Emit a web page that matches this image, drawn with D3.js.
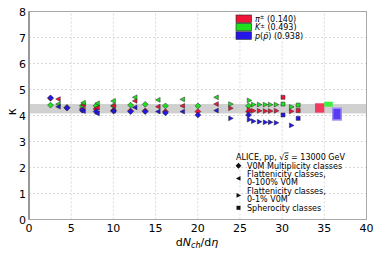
<!DOCTYPE html>
<html>
<head>
<meta charset="utf-8">
<script src="https://cdn.jsdelivr.net/npm/d3@7"></script>
<style>
  body { margin: 0; background: #fff; }
  svg { font-family: "DejaVu Sans", sans-serif; }
</style>
</head>
<body>
<div id="chart"></div>
<script>
// Data (kappa per species, per event class)
const species = ["pi", "K", "p"];
const speciesMass = ["0.140", "0.493", "0.938"];
const colors = { pi: "#ee1538", K: "#1fe01f", p: "#2418e8" };

// V0M multiplicity classes
const v0mX = [2.55, 4.50, 6.32, 7.95, 10.02, 12.04, 13.77, 16.17, 20.02, 26.02];
const v0mPi = [4.66, 4.31, 4.25, 4.25, 4.20, 4.18, 4.18, 4.15, 4.15, 4.15];
const v0mK = [4.40, 4.30, 4.37, 4.37, 4.37, 4.40, 4.43, 4.37, 4.37, 4.37];
const v0mP = [4.68, 4.29, 4.20, 4.15, 4.17, 4.15, 4.15, 4.10, 4.02, 4.02];

// Flattenicity classes, 0-100% V0M
const flatAllX = [3.47, 6.44, 8.1, 10.0, 12.56, 15.3, 18.2, 22.2];
const flatAllPi = [4.63, 4.40, 4.30, 4.37, 4.56, 4.34, 4.37, 4.44];
const flatAllK = [4.44, 4.49, 4.47, 4.56, 4.70, 4.60, 4.62, 4.70];
const flatAllP = [4.34, 4.17, 4.08, 4.18, 4.31, 4.15, 4.15, 4.19];

// Flattenicity classes, 0-1% V0M
const flatTopX = [23.9, 26.1, 26.6, 27.3, 28.0, 28.6, 29.3, 31.1];
const flatTopPi = [4.28, 4.22, 4.18, 4.18, 4.17, 4.17, 4.18, 4.16];
const flatTopK = [4.44, 4.58, 4.42, 4.42, 4.42, 4.42, 4.42, 4.33];
const flatTopP = [3.89, 3.84, 3.78, 3.76, 3.74, 3.74, 3.72, 3.62];

// Spherocity classes
const sphX = [30.1, 31.9];
const sphPi = [4.70, 4.19];
const sphK = [4.44, 4.40];
const sphP = [4.02, 3.89];

// Summary boxes (x range, kappa range)
const boxX0 = [33.9, 35.0, 36.0];
const boxX1 = [35.0, 36.0, 37.0];
const boxLo = [4.11, 4.34, 3.83];
const boxHi = [4.47, 4.53, 4.28];

const bandLo = 4.08, bandHi = 4.44;

const xTicks = [0, 5, 10, 15, 20, 25, 30, 35, 40];
const yTicks = [0, 1, 2, 3, 4, 5, 6, 7, 8];

const width = 381, height = 254;
const margin = { top: 11.5, right: 14.5, bottom: 34.5, left: 29 };

const svg = d3.select("#chart").append("svg")
    .attr("width", width)
    .attr("height", height);

const x = d3.scaleLinear().domain([0, 40]).range([margin.left, width - margin.right]);
const y = d3.scaleLinear().domain([0, 8]).range([height - margin.bottom, margin.top]);

// grid
svg.append("g").selectAll("line").data(xTicks.slice(1, -1)).join("line")
    .attr("x1", d => x(d)).attr("x2", d => x(d))
    .attr("y1", y(0)).attr("y2", y(8))
    .attr("stroke", "#d8d8d8").attr("stroke-dasharray", "2,2");
svg.append("g").selectAll("line").data(yTicks.slice(1, -1)).join("line")
    .attr("x1", x(0)).attr("x2", x(40))
    .attr("y1", d => y(d)).attr("y2", d => y(d))
    .attr("stroke", "#d8d8d8").attr("stroke-dasharray", "2,2");

// gray band
svg.append("rect")
    .attr("x", x(0)).attr("width", x(40) - x(0))
    .attr("y", y(bandHi)).attr("height", y(bandLo) - y(bandHi))
    .attr("fill", "#d0d0d0");

// frame
svg.append("rect")
    .attr("x", x(0)).attr("y", y(8))
    .attr("width", x(40) - x(0)).attr("height", y(0) - y(8))
    .attr("fill", "none").attr("stroke", "#a8a8a8").attr("stroke-width", 1);
svg.append("line")
    .attr("x1", x(0)).attr("x2", x(0)).attr("y1", y(0)).attr("y2", y(8))
    .attr("stroke", "#999").attr("stroke-width", 2);

// tick labels
svg.append("g").selectAll("text").data(xTicks).join("text")
    .attr("x", d => x(d)).attr("y", y(0) + 12)
    .attr("text-anchor", "middle").attr("font-size", 11)
    .text(d => d);
svg.append("g").selectAll("text").data(yTicks).join("text")
    .attr("x", x(0) - 3).attr("y", d => y(d) + 4)
    .attr("text-anchor", "end").attr("font-size", 11)
    .text(d => d);

// axis labels
const xl = svg.append("text")
    .attr("x", 197).attr("y", 246)
    .attr("text-anchor", "middle").attr("font-size", 11);
xl.append("tspan").text("d");
xl.append("tspan").attr("font-style", "italic").text("N");
xl.append("tspan").attr("font-style", "italic").attr("font-size", 8).attr("dy", 2).text("ch");
xl.append("tspan").attr("dy", -2).text("/d");
xl.append("tspan").attr("font-style", "italic").text("η");

svg.append("text")
    .attr("transform", `translate(16,${y(4.15)}) rotate(-90)`)
    .attr("text-anchor", "middle").attr("font-size", 12)
    .text("κ");

// summary boxes
const boxColors = ["#f03a5e", "#3cf03c", "#5a3cf2"];
svg.append("g").selectAll("rect").data(boxX0).join("rect")
    .attr("x", (d, i) => x(d))
    .attr("width", (d, i) => x(boxX1[i]) - x(d))
    .attr("y", (d, i) => y(boxHi[i]))
    .attr("height", (d, i) => y(boxLo[i]) - y(boxHi[i]))
    .attr("fill", (d, i) => boxColors[i])
    .attr("stroke", (d, i) => i === 2 ? "#9a8cf0" : "none")
    .attr("stroke-width", 1.5);

// markers
const diamond = d3.symbol().type(d3.symbolDiamond2).size(22)();
const square = d3.symbol().type(d3.symbolSquare).size(16)();
const triLeft = "M-2.6,0L2,-2.4L2,2.4Z";
const triRight = "M2.6,0L-2,-2.4L-2,2.4Z";

const sets = [
    { xs: v0mX, vals: { pi: v0mPi, K: v0mK, p: v0mP }, path: diamond },
    { xs: flatAllX, vals: { pi: flatAllPi, K: flatAllK, p: flatAllP }, path: triLeft },
    { xs: flatTopX, vals: { pi: flatTopPi, K: flatTopK, p: flatTopP }, path: triRight },
    { xs: sphX, vals: { pi: sphPi, K: sphK, p: sphP }, path: square }
];

sets.forEach(s => {
    species.forEach(sp => {
        const pts = s.xs.map((xv, i) => [xv, s.vals[sp][i]]);
        svg.append("g").selectAll("path").data(pts).join("path")
            .attr("d", s.path)
            .attr("transform", d => `translate(${x(d[0])},${y(d[1])})`)
            .attr("fill", colors[sp])
            .attr("stroke", "#222").attr("stroke-width", 0.5);
    });
});

// species legend
const leg = svg.append("g").attr("transform", "translate(236,15)");
species.forEach((sp, i) => {
    leg.append("rect")
        .attr("x", 0).attr("y", i * 8.4)
        .attr("width", 15.5).attr("height", 7.5)
        .attr("fill", colors[sp]).attr("stroke", "#222").attr("stroke-width", 0.6);
    const t = leg.append("text")
        .attr("x", 19).attr("y", i * 8.4 + 6.8)
        .attr("font-size", 8);
    if (sp === "pi") {
        t.append("tspan").attr("font-style", "italic").text("π");
        t.append("tspan").attr("font-size", 5.5).attr("dy", -2.5).text("±");
        t.append("tspan").attr("dy", 2.5).text(" (" + speciesMass[i] + ")");
    } else if (sp === "K") {
        t.append("tspan").attr("font-style", "italic").text("K");
        t.append("tspan").attr("font-size", 5.5).attr("dy", -2.5).text("±");
        t.append("tspan").attr("dy", 2.5).text(" (" + speciesMass[i] + ")");
    } else {
        t.append("tspan").attr("font-style", "italic").text("p");
        t.append("tspan").text("(");
        t.append("tspan").attr("font-style", "italic").text("p̄");
        t.append("tspan").text(") (" + speciesMass[i] + ")");
    }
});

// class legend
const cl = svg.append("g").attr("transform", "translate(236,0)");
const ct = cl.append("text").attr("x", 0).attr("y", 159.5).attr("font-size", 8);
ct.append("tspan").text("ALICE, pp, √");
ct.append("tspan").attr("text-decoration", "overline").attr("font-style", "italic").text("s");
ct.append("tspan").text(" = 13000 GeV");

const classEntries = [
    { path: diamond, lines: ["V0M Multiplicity classes"], textY: [168.6], markY: 165.8 },
    { path: triLeft, lines: ["Flattenicity classes,", "0-100% V0M"], textY: [177.1, 185.1], markY: 178.4 },
    { path: triRight, lines: ["Flattenicity classes,", "0-1% V0M"], textY: [193.9, 201.9], markY: 195.4 },
    { path: square, lines: ["Spherocity classes"], textY: [210.6], markY: 207.8 }
];
classEntries.forEach(e => {
    cl.append("path").attr("d", e.path)
        .attr("transform", `translate(2.5,${e.markY})`)
        .attr("fill", "#111");
    e.lines.forEach((ln, j) => {
        cl.append("text")
            .attr("x", 11)
            .attr("y", e.textY[j])
            .attr("font-size", 8)
            .text(ln);
    });
});
</script>
</body>
</html>
